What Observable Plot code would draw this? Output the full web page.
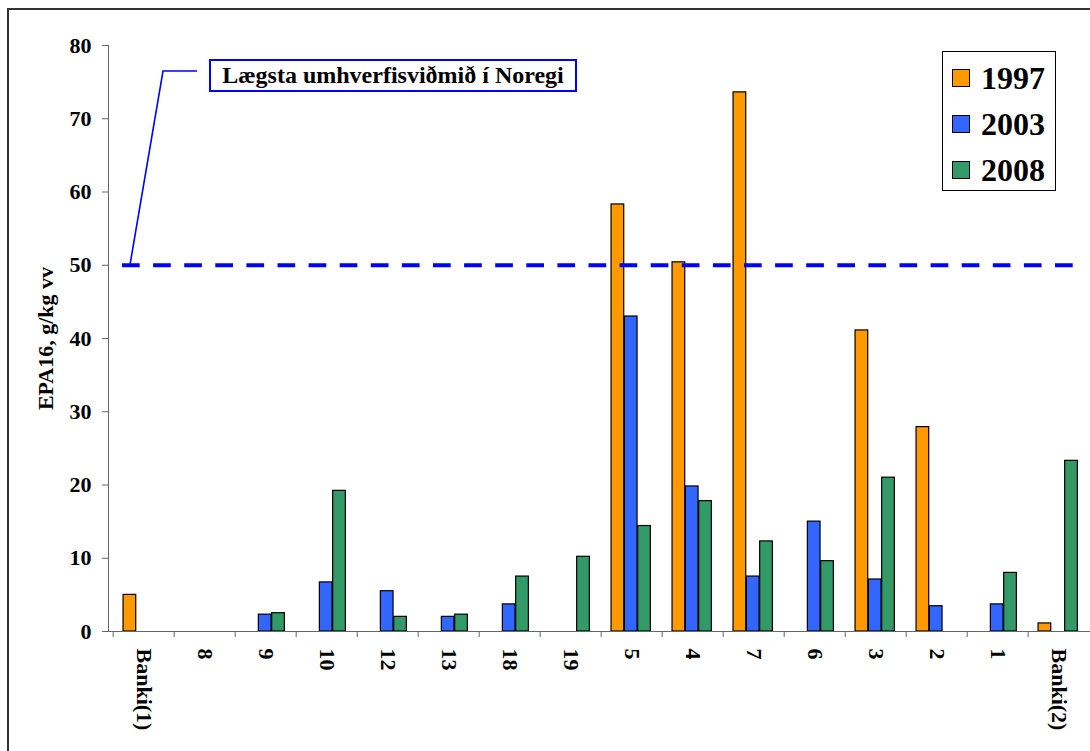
<!DOCTYPE html>
<html>
<head>
<meta charset="utf-8">
<script src="https://cdn.jsdelivr.net/npm/d3@7"></script>
<script src="https://cdn.jsdelivr.net/npm/@observablehq/plot@0.6"></script>
<style>
html, body { margin: 0; padding: 0; background: #fff; overflow: hidden; }
#wrap { position: relative; width: 1090px; height: 751px; overflow: hidden;
  font-family: "Liberation Serif", "Times New Roman", serif; font-weight: bold; color: #000; }
#border { position: absolute; left: 7px; top: 8px; width: 1200px; height: 900px;
  border: 2px solid #333; box-sizing: border-box; }
#chart { position: absolute; left: 0; top: 0; }
#legend { position: absolute; left: 942px; top: 51px; width: 114px; height: 140px;
  border: 1px solid #000; background: #fff; box-sizing: border-box; }
#legend .row { position: absolute; left: 9px; height: 46px; display: flex; align-items: center; }
#legend .sw { width: 18px; height: 18px; border: 1px solid #000; box-sizing: border-box; }
#legend .lab { font-size: 32px; margin-left: 11px; line-height: 1; }
#note { position: absolute; left: 209px; top: 59px; width: 368px; height: 33px;
  border: 2px solid #0000ff; box-sizing: border-box; background: #fff;
  font-size: 24px; line-height: 29px; text-align: center; white-space: nowrap; }
#leader { position: absolute; left: 0; top: 0; pointer-events: none; }
g[aria-label="ylabel"] text { letter-spacing: 2.4px; }
</style>
</head>
<body>
<div id="wrap">
  <div id="border"></div>
  <div id="chart"></div>
  <svg id="leader" width="1090" height="751"></svg>
  <div id="note"></div>
  <div id="legend"></div>
</div>
<script>
// ---- data ----
const categories = ["Banki(1)", "8", "9", "10", "12", "13", "18", "19", "5", "4", "7", "6", "3", "2", "1", "Banki(2)"];
const years = ["1997", "2003", "2008"];
const values1997 = [5.0, null, null, null, null, null, null, null, 58.3, 50.4, 73.6, null, 41.1, 27.9, null, 1.1];
const values2003 = [null, null, 2.3, 6.7, 5.5, 2.0, 3.7, null, 43.0, 19.8, 7.5, 15.0, 7.1, 3.45, 3.7, null];
const values2008 = [null, null, 2.5, 19.2, 2.0, 2.3, 7.5, 10.2, 14.4, 17.8, 12.3, 9.6, 21.0, null, 8.0, 23.3];
const colors = ["#FF9900", "#3366FF", "#339966"];
const yTicks = [0, 10, 20, 30, 40, 50, 60, 70, 80];
const threshold = 50;
const yLabel = "EPA16, g/kg vv";
const noteText = "Lægsta umhverfisviðmið í Noregi";

// long table built from the arrays
const series = [values1997, values2003, values2008];
const rows = [];
years.forEach((yr, i) => {
  categories.forEach((c, j) => {
    if (series[i][j] != null) rows.push({cat: c, year: yr, value: series[i][j]});
  });
});

// ---- layout ----
const W = 1090, H = 751;
const left = 108, right = 1094;
const step = (right - left) / categories.length;
const barW = step * 0.216;
const inset = (step - barW) / 2;

const barMarks = years.map((yr, i) => Plot.barY(rows.filter(d => d.year === yr), {
  x: "cat", y: "value", fill: "year",
  stroke: "#000", strokeWidth: 1.2,
  insetLeft: inset, insetRight: inset,
  dx: (i - 1) * barW - 0.8
}));

const chart = Plot.plot({
  width: W,
  height: H,
  marginLeft: left,
  marginRight: 0,
  marginTop: 45,
  marginBottom: 120,
  style: {fontFamily: '"Liberation Serif", "Times New Roman", serif', fontWeight: "bold", background: "transparent", overflow: "hidden"},
  x: {domain: categories, range: [left, right], padding: 0},
  y: {domain: [0, 80]},
  color: {domain: years, range: colors},
  marks: [
    Plot.frame({anchor: "left", stroke: "#666"}),
    ...barMarks,
    Plot.ruleY([0], {stroke: "#666"}),
    Plot.ruleY([threshold], {stroke: "#0000ff", strokeWidth: 4, strokeDasharray: "17.7,13.4", insetLeft: 14, insetRight: 15}),
    Plot.axisY({ticks: yTicks, tickSize: 6, tickPadding: 11, fontSize: 22, stroke: "#666", fill: "#000", label: null}),
    Plot.axisX({tickSize: 6, tickFormat: () => "", dx: -step / 2, stroke: "#666", label: null}),
    Plot.text(categories, {x: d => d, y: () => 0, rotate: 90, textAnchor: "start", lineAnchor: "middle", dy: 17, fontSize: 22, fill: "#000"}),
    Plot.text([yLabel], {frameAnchor: "left", textAnchor: "middle", rotate: -90, dx: -63, fontSize: 22, fill: "#000", ariaLabel: "ylabel"})
  ]
});
document.getElementById("chart").appendChild(chart);

// legend
const legend = document.getElementById("legend");
years.forEach((yr, i) => {
  const row = document.createElement("div");
  row.className = "row";
  row.style.top = (3 + 46 * i) + "px";
  const sw = document.createElement("div");
  sw.className = "sw";
  sw.style.background = colors[i];
  const lab = document.createElement("span");
  lab.className = "lab";
  lab.textContent = yr;
  row.appendChild(sw);
  row.appendChild(lab);
  legend.appendChild(row);
});

// annotation
document.getElementById("note").textContent = noteText;
const yS = chart.scale("y");
const yAt = yS.apply(threshold);
d3.select("#leader").append("path")
  .attr("d", `M130,${yAt} L163,71 L197,71`)
  .attr("fill", "none").attr("stroke", "#0000ff").attr("stroke-width", 1.6);
</script>
</body>
</html>
